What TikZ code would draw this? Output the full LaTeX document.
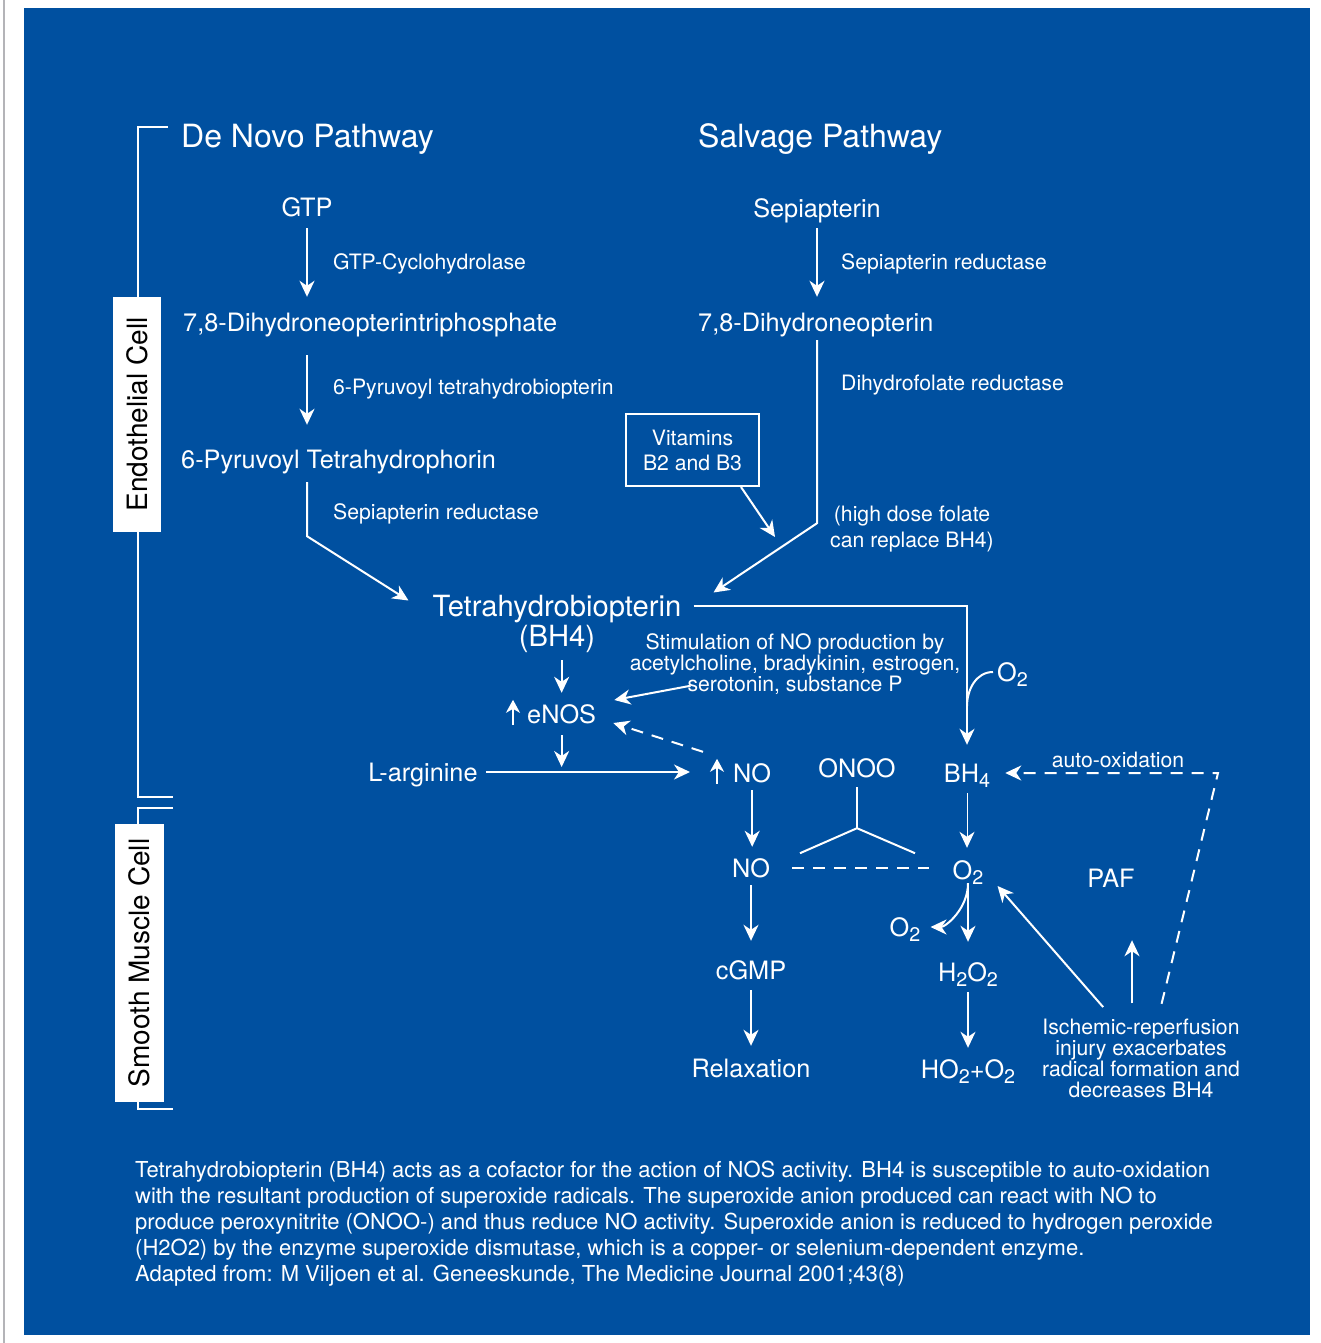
\documentclass[tikz,border=0pt]{standalone}
\usepackage{fontspec}
\setmainfont{TeX Gyre Heros}
\usetikzlibrary{arrows.meta, calc}
\definecolor{panelblue}{RGB}{0, 80, 160}
\definecolor{edgegray}{RGB}{180, 180, 184}
\newcommand{\dn}[1]{\raisebox{-0.22em}{\scalebox{0.78}{#1}}}
\tikzset{
  lbl/.style={inner sep=0pt, text depth=0pt, text=white},
  pathhead/.style={lbl, text height=22.8pt, font=\fontsize{32}{36}\selectfont},
  bigmol/.style={lbl, text height=21pt, font=\fontsize{29.2}{33}\selectfont},
  mol/.style={lbl, text height=18pt, font=\fontsize{25.3}{29}\selectfont},
  enz/.style={lbl, text height=15pt, font=\fontsize{21.2}{24}\selectfont},
  note/.style={inner sep=0pt, text=white, align=center},
  flow/.style={white, line width=2pt, -{Stealth[length=16pt, width=15pt, inset=5pt]}},
  rise/.style={white, line width=2pt, -{Stealth[length=13pt, width=14pt, inset=4pt]}},
  dashflow/.style={flow, dash pattern=on 12pt off 9pt},
  cellbox/.style={fill=white, text=black, inner sep=0pt, rotate=90, font=\fontsize{28}{30}\selectfont},
}

\begin{document}
\begin{tikzpicture}[x=1pt, y=-1pt]
  % Page and panel
  \useasboundingbox (0,0) rectangle (1320,1343);
  \fill[white] (0,0) rectangle (1320,1343);
  \draw[edgegray, line width=2pt] (4,0) -- (4,1343);
  \fill[panelblue] (24,8) rectangle (1310,1335);

  % Cell brackets
  \draw[white, line width=2pt] (168,127) -- (138,127) -- (138,797) -- (173,797);
  \draw[white, line width=2pt] (173,808) -- (138,808) -- (138,1109) -- (173,1109);
  \node[cellbox, minimum width=235pt, minimum height=48pt] (endo) at (137,414.5) {Endothelial Cell};
  \node[cellbox, minimum width=278pt, minimum height=49pt] (smc) at (139.5,963) {Smooth Muscle Cell};

  % Headings
  \node[pathhead, anchor=base west] (denovo) at (181,148) {De Novo Pathway};
  \node[pathhead, anchor=base west] (salvage) at (698,148) {Salvage Pathway};

  % BH4
  \node[bigmol, anchor=base] (bh4) at (557,616) {Tetrahydrobiopterin};
  \node[bigmol, anchor=base] (bh4b) at (557,646) {(BH4)};

  % De novo pathway
  \node[mol, anchor=base] (gtp) at (307,216) {GTP};
  \node[mol, anchor=base west] (dntp) at (183,331) {7,8-Dihydroneopterintriphosphate};
  \node[mol, anchor=base west] (ptp) at (181,468) {6-Pyruvoyl Tetrahydrophorin};
  \node[enz, anchor=base west] (gch) at (333,269) {GTP-Cyclohydrolase};
  \node[enz, anchor=base west] (ptps) at (333,394) {6-Pyruvoyl tetrahydrobiopterin};
  \node[enz, anchor=base west] (sr1) at (333,519) {Sepiapterin reductase};
  \draw[flow, shorten <=12pt, shorten >=16pt] (gtp.south) -- (gtp.south |- dntp.north);
  \draw[flow, shorten <=24pt, shorten >=25pt] (gtp.south |- dntp.south) -- (gtp.south |- ptp.north);
  \draw[flow] ([yshift=-14pt]gtp.south |- ptp.south) -- ++(0,54) -- ([xshift=-24pt, yshift=5pt]bh4.west);

  % Salvage pathway
  \node[mol, anchor=base] (sep) at (817,217) {Sepiapterin};
  \node[mol, anchor=base west] (dhn) at (698,331) {7,8-Dihydroneopterin};
  \node[enz, anchor=base west] (sr2) at (841,269) {Sepiapterin reductase};
  \node[enz, anchor=base west] (dhfr) at (841,390) {Dihydrofolate reductase};
  \node[note, font=\fontsize{21.2}{26}\selectfont] (folate) at (912,529) {(high dose folate\\can replace BH4)};
  \node[note, draw=white, line width=2pt, minimum width=133pt, minimum height=72pt,
        font=\fontsize{21.2}{25}\selectfont] (vit) at (692.5,450) {Vitamins\\B2 and B3};
  \coordinate (vitend) at (775,537);
  \draw[flow, shorten <=11pt, shorten >=16pt] (sep.south) -- (sep.south |- dhn.north);
  \draw[flow] ([yshift=-9pt]sep.south |- dhn.south) -- ++(0,183) -- ([xshift=32pt, yshift=13pt]bh4.east);
  \draw[flow] ([xshift=-19pt]vit.south east) -- (vitend);

  % eNOS and NO
  \node[note, font=\fontsize{21.2}{19}\selectfont] (stim) at (795,664) {Stimulation of NO production by\\acetylcholine, bradykinin, estrogen,\\serotonin, substance P};
  \node[mol, anchor=base west] (enos) at (527,723) {eNOS};
  \node[mol, anchor=base] (larg) at (423,781) {L-arginine};
  \node[mol, anchor=base west] (no1) at (733,782) {NO};
  \node[mol, anchor=base] (onoo) at (857,777) {ONOO};
  \node[mol, anchor=base] (bhf) at (967,782) {BH\dn{4}};
  \node[mol, anchor=base west] (o2a) at (997,681) {O\dn{2}};
  \node[enz, anchor=base] (auto) at (1118,767) {auto-oxidation};
  \draw[flow, shorten <=12pt, shorten >=19pt] (bh4.east) -- (bhf.north |- bh4.east) -- (bhf.north);
  \draw[white, line width=2pt] ([xshift=-4pt]o2a.west) to[out=180, in=90] ([yshift=-25pt]bhf.north |- o2a.south);
  \draw[flow, shorten <=14pt, shorten >=12pt] (enos.north |- bh4b.south) -- (enos.north);
  \draw[rise] ([xshift=-14pt, yshift=-2pt]enos.south west) -- ([xshift=-14pt, yshift=5pt]enos.north west);
  \draw[flow] ([xshift=61pt, yshift=9pt]stim.south west) -- ([xshift=18pt, yshift=14pt]enos.east);
  \draw[dashflow] ([xshift=-30pt, yshift=12pt]no1.north west) -- ([xshift=17pt, yshift=-9pt]enos.east);
  \draw[flow, shorten <=12pt, shorten >=5pt] (enos.south) -- (enos.south |- larg.east);
  \draw[flow, shorten <=8pt, shorten >=43pt] (larg.east) -- (larg.east -| no1.west);
  \draw[rise] ([xshift=-16pt, yshift=-2pt]no1.south west) -- ([xshift=-16pt, yshift=5pt]no1.north west);

  % Smooth muscle side
  \node[mol, anchor=base] (no2) at (751,877) {NO};
  \node[mol, anchor=base] (o2b) at (968,879) {O\dn{2}};
  \node[mol, anchor=base] (o2c) at (905,936) {O\dn{2}};
  \node[mol, anchor=base] (paf) at (1111,887) {PAF};
  \node[mol, anchor=base] (cgmp) at (751,979) {cGMP};
  \node[mol, anchor=base] (h2o2) at (968,981) {H\dn{2}O\dn{2}};
  \node[mol, anchor=base] (relax) at (751,1077) {Relaxation};
  \node[mol, anchor=base] (ho2) at (968,1078) {HO\dn{2}+O\dn{2}};
  \node[note, font=\fontsize{21.2}{21}\selectfont] (isch) at (1141,1058) {Ischemic-reperfusion\\injury exacerbates\\radical formation and\\decreases BH4};
  \draw[flow, shorten <=8pt, shorten >=12pt] (no1.south) -- (no1.south |- no2.north);
  \draw[white, line width=2pt] ([yshift=-10pt]onoo.south) -- ([yshift=-51pt]onoo.south) coordinate (fork);
  \draw[white, line width=2pt] ([xshift=-57pt, yshift=-25pt]fork) -- (fork) -- ([xshift=58pt, yshift=-25pt]fork);
  \draw[white, line width=2pt, dash pattern=on 12pt off 9pt, shorten <=22pt, shorten >=23pt] (no2.east) -- (no2.east -| o2b.west);
  \draw[white, line width=1pt, -{Stealth[length=16pt, width=15pt, inset=5pt]}, shorten <=11pt, shorten >=13pt] (bhf.south) -- (bhf.south |- o2b.north);
  \draw[flow, shorten <=8pt, shorten >=21pt] (o2b.south) -- (o2b.south |- h2o2.north);
  \draw[flow, shorten >=10pt] ([yshift=-4pt]o2b.south) to[out=-90, in=0] (o2c.east);
  \draw[flow, shorten <=11pt, shorten >=12pt] (h2o2.south) -- (h2o2.south |- ho2.north);
  \draw[flow, shorten <=8pt, shorten >=20pt] (no2.south) -- (no2.south |- cgmp.north);
  \draw[flow, shorten <=11pt, shorten >=13pt] (cgmp.south) -- (cgmp.south |- relax.north);
  \draw[flow, shorten <=15pt] ([xshift=-28pt]isch.north) -- ([xshift=14pt, yshift=-16pt]o2b.east);
  \draw[flow, shorten <=15pt, shorten >=53pt] ([xshift=-9pt]isch.north) -- ([xshift=-9pt]isch.north |- paf.south);
  \coordinate (autocorner) at (1218,773);
  \draw[dashflow, shorten <=15pt, shorten >=15pt] ([xshift=17pt]isch.north) -- (autocorner) -- (bhf.east);

  % Caption
  \node[anchor=north west, inner sep=0pt, text=white, align=left, font=\fontsize{22}{26}\selectfont] (caption) at (135,1161)
    {Tetrahydrobiopterin (BH4) acts as a cofactor for the action of NOS activity. BH4 is susceptible to auto-oxidation\\
     with the resultant production of superoxide radicals. The superoxide anion produced can react with NO to\\
     produce peroxynitrite (ONOO-) and thus reduce NO activity. Superoxide anion is reduced to hydrogen peroxide\\
     (H2O2) by the enzyme superoxide dismutase, which is a copper- or selenium-dependent enzyme.\\
     Adapted from: M Viljoen et al. Geneeskunde, The Medicine Journal 2001;43(8)};
\end{tikzpicture}
\end{document}
